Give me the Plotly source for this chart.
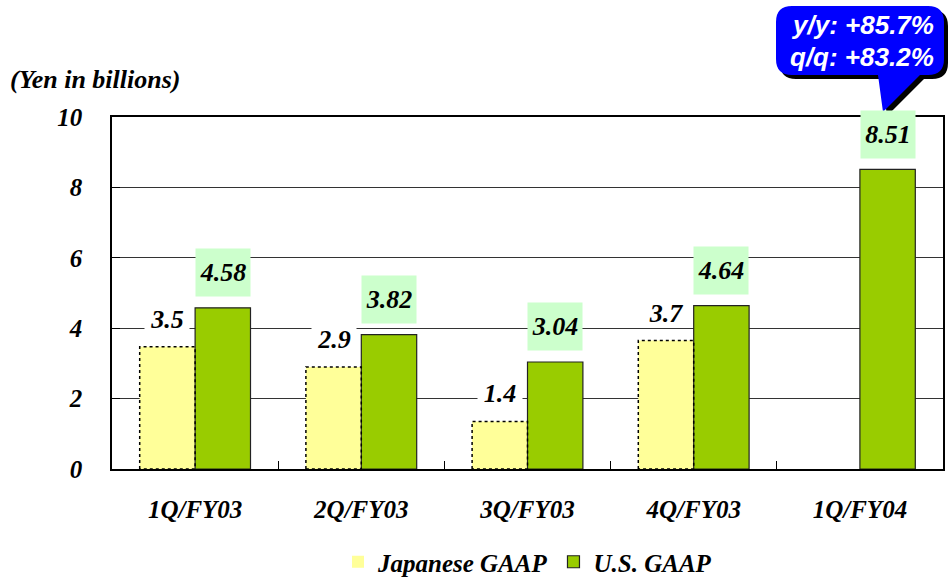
import plotly.graph_objects as go

categories = ["1Q/FY03", "2Q/FY03", "3Q/FY03", "4Q/FY03", "1Q/FY04"]
jp_values = [3.47, 2.9, 1.35, 3.65, None]
jp_labels = ["3.5", "2.9", "1.4", "3.7", None]
us_values = [4.58, 3.82, 3.04, 4.64, 8.51]
us_labels = ["4.58", "3.82", "3.04", "4.64", "8.51"]
y_ticks = [0, 2, 4, 6, 8, 10]
callout_lines = ["y/y: +85.7%", "q/q: +83.2%"]

W, H = 950, 577
L, R, T, B = 112, 7, 117, 108
PW, PH = W - L - R, H - T - B

def px_x(p):
    return (p - L) / PW

def px_y(p):
    return (H - B - p) / PH

serif = "Liberation Serif"
xs = list(range(len(categories)))
bw = 1 / 3

fig = go.Figure()
fig.add_trace(go.Bar(x=xs, y=jp_values, name="<b><i>Japanese GAAP</i></b>",
                     marker=dict(color="#FFFF99", line=dict(width=0))))
fig.add_trace(go.Bar(x=xs, y=us_values, name="<b><i>U.S. GAAP</i></b>",
                     marker=dict(color="#99CC00", line=dict(color="#222222", width=1.2))))

# dotted outline for Japanese GAAP bars
ox, oy = [], []
for i, v in enumerate(jp_values):
    if v is None:
        continue
    x0, x1 = i - bw, i
    ox += [x0, x0, x1, x1, x0, None]
    oy += [0, v, v, 0, 0, None]
fig.add_trace(go.Scatter(x=ox, y=oy, mode="lines", showlegend=False, hoverinfo="skip",
                         line=dict(color="black", width=1.5, dash="dot")))

annotations = []
for i, (v, t) in enumerate(zip(jp_values, jp_labels)):
    if v is None:
        continue
    annotations.append(dict(x=i - bw / 2, y=v, xref="x", yref="y", text=t, showarrow=False,
                            yanchor="middle", yshift=28, bgcolor="white", width=42, height=26,
                            font=dict(family=serif, size=26, color="black")))
for i, (v, t) in enumerate(zip(us_values, us_labels)):
    annotations.append(dict(x=i + bw / 2, y=v, xref="x", yref="y", text=t, showarrow=False,
                            yanchor="middle", yshift=35, bgcolor="#CCFFCC", width=54, height=47,
                            borderpad=0,
                            font=dict(family=serif, size=26, color="black")))
for s in annotations:
    s["text"] = "<b><i>%s</i></b>" % s["text"]

annotations.append(dict(x=px_x(8), y=px_y(79), xref="paper", yref="paper", xanchor="left",
                        yanchor="middle", showarrow=False,
                        text="<b><i>(Yen in billions)</i></b>",
                        font=dict(family=serif, size=26, color="black")))
for k, line in enumerate(callout_lines):
    annotations.append(dict(x=px_x(862), y=px_y(25 + 32 * k), xref="paper", yref="paper",
                            xanchor="center", yanchor="middle", showarrow=False,
                            text="<b><i>%s</i></b>" % line,
                            font=dict(family="Liberation Sans", size=26, color="white")))

def callout_path(dx=0, dy=0):
    x0, x1, y0, y1, r = 776 + dx, 944 + dx, 6 + dy, 75 + dy, 16
    pb0, pb1, tipx, tipy = 878 + dx, 920 + dx, 883 + dx, 112 + dy
    pts = [
        ("M", x0 + r, y0), ("L", x1 - r, y0), ("Q", x1, y0, x1, y0 + r),
        ("L", x1, y1 - r), ("Q", x1, y1, x1 - r, y1), ("L", pb1, y1),
        ("L", tipx, tipy), ("L", pb0, y1), ("L", x0 + r, y1),
        ("Q", x0, y1, x0, y1 - r), ("L", x0, y0 + r), ("Q", x0, y0, x0 + r, y0),
    ]
    out = []
    for p in pts:
        cmd = p[0]
        coords = p[1:]
        cs = []
        for j in range(0, len(coords), 2):
            cs.append("%.5f,%.5f" % (px_x(coords[j]), px_y(coords[j + 1])))
        out.append(cmd + " " + " ".join(cs))
    return " ".join(out) + " Z"

shapes = [
    dict(type="path", xref="paper", yref="paper", path=callout_path(4, 4),
         fillcolor="black", line=dict(width=0), layer="above"),
    dict(type="path", xref="paper", yref="paper", path=callout_path(),
         fillcolor="#0000FF", line=dict(width=0), layer="above"),
]

fig.update_layout(
    width=W, height=H,
    margin=dict(l=L, r=R, t=T, b=B, pad=0, autoexpand=False),
    paper_bgcolor="white", plot_bgcolor="white",
    barmode="group", bargap=1 / 3, bargroupgap=0,
    showlegend=True,
    legend=dict(orientation="h", x=0.5, xanchor="center", y=px_y(562), yanchor="middle",
                font=dict(family=serif, size=25, color="black"),
                itemwidth=30, bgcolor="rgba(0,0,0,0)"),
    annotations=annotations, shapes=shapes,
    xaxis=dict(range=[-0.5, 4.5], tickmode="array", tickvals=xs,
               ticktext=["<b><i>%s</i></b>" % c for c in categories],
               ticks="", showgrid=False, zeroline=False, automargin=False,
               showline=True, linecolor="black", linewidth=1.5, mirror=True,
               tickfont=dict(family=serif, size=25, color="black"),
               ticklabelstandoff=17,
               minor=dict(tickmode="array", tickvals=[0.5, 1.5, 2.5, 3.5],
                          ticks="inside", ticklen=8, tickcolor="black", tickwidth=1,
                          showgrid=False)),
    yaxis=dict(range=[0, 10], tickmode="array", tickvals=y_ticks,
               ticktext=["<b><i>%d</i></b>" % v for v in y_ticks],
               ticks="inside", ticklen=8, tickcolor="black", automargin=False,
               showgrid=True, gridcolor="#333333", gridwidth=1, zeroline=False,
               showline=True, linecolor="black", linewidth=1.5, mirror=True,
               tickfont=dict(family=serif, size=25, color="black"),
               ticklabelstandoff=23),
)

fig.write_html("out.html")
